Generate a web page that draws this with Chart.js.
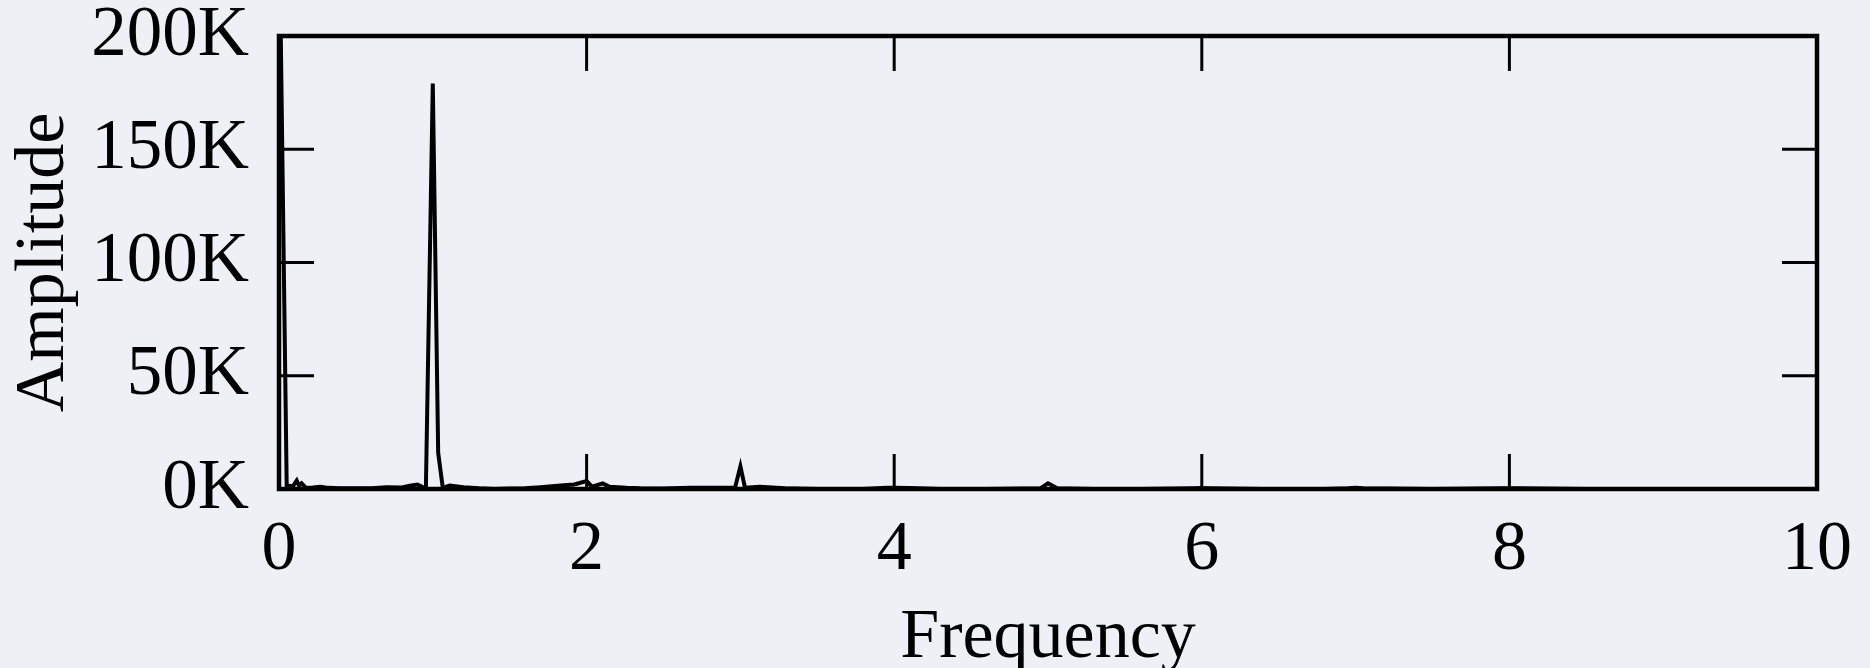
<!DOCTYPE html>
<html>
  <head>
    <style>
      html, body { margin: 0; padding: 0; background: #eff0f5; }
      #wrap { width: 1870px; height: 668px; }
    </style>
  </head>
  <body>
    <div id="wrap">
      <canvas id="myChart" width="1870" height="668"></canvas>
    </div>

    <script src="https://cdn.jsdelivr.net/npm/chart.js"></script>

    <script>
      "use strict";

      // spectrum (frequency, amplitude)
      const freq = [0, 0.05, 0.09, 0.115, 0.13, 0.147, 0.175, 0.22, 0.27, 0.32, 0.4, 0.5, 0.6, 0.7, 0.8, 0.85, 0.9, 0.93, 0.955,
                    1.0, 1.035, 1.065, 1.11, 1.2, 1.3, 1.4, 1.5, 1.6, 1.7, 1.83, 1.92, 2.0, 2.035, 2.105, 2.15, 2.26, 2.35,
                    2.5, 2.67, 2.83, 2.965, 3.0, 3.03, 3.125, 3.29, 3.5, 3.8, 3.95, 4.0, 4.1, 4.3, 4.6, 4.95, 5.0, 5.06,
                    5.3, 5.6, 5.95, 6.0, 6.05, 6.4, 6.8, 6.95, 7.0, 7.05, 7.5, 7.95, 8.05, 8.5, 9.0, 9.5, 10];
      const amp  = [260000, 1500, 1200, 3700, 1500, 2500, 500, 700, 1000, 500, 300, 300, 300, 800, 700, 1500, 2000, 1000, 300,
                    179000, 16000, 500, 1500, 800, 300, 0, 200, 300, 800, 1500, 2000, 3500, 1000, 2500, 1000, 500, 300,
                    200, 500, 500, 500, 10000, 500, 1000, 300, 0, 0, 500, 600, 400, 0, 0, 300, 2500, 300,
                    0, 0, 300, 400, 300, 0, 0, 300, 500, 300, 0, 300, 300, 0, 0, 0, 0];

      const yTicks = [0, 50000, 100000, 150000, 200000];

      const serif = "'Liberation Serif', 'Times New Roman', serif";

      // box round the plot plus inward tick marks on all four sides
      const frame = {
          id: 'frame',
          afterDatasetsDraw(chart) {
              const ctx = chart.ctx;
              const a = chart.chartArea;
              const x = chart.scales.x;
              const y = chart.scales.y;
              const len = 35;
              function seg(x1, y1, x2, y2) {
                  ctx.beginPath(); ctx.moveTo(x1, y1); ctx.lineTo(x2, y2); ctx.stroke();
              }
              ctx.save();
              ctx.strokeStyle = '#000';
              ctx.lineWidth = 3;
              x.ticks.forEach(t => {
                  if (t.value <= x.min || t.value >= x.max) return;
                  const px = x.getPixelForValue(t.value);
                  seg(px, a.top, px, a.top + len);
                  seg(px, a.bottom, px, a.bottom - len);
              });
              y.ticks.forEach(t => {
                  if (t.value <= y.min || t.value >= y.max) return;
                  const py = y.getPixelForValue(t.value);
                  seg(a.left, py, a.left + len, py);
                  seg(a.right, py, a.right - len, py);
              });
              ctx.lineWidth = 4.5;
              ctx.strokeRect(a.left, a.top, a.right - a.left, a.bottom - a.top);
              ctx.restore();
          }
      };

      const points = freq.map((f, i) => ({ x: f, y: amp[i] }));

      const ctx = document.getElementById('myChart').getContext('2d');
      const chart = new Chart(ctx, {
          type: 'scatter',
          data: {
              datasets: [{
                  data: points,
                  showLine: true,
                  borderColor: '#000',
                  backgroundColor: '#000',
                  borderWidth: 4,
                  pointRadius: 0,
                  tension: 0
              }]
          },
          options: {
              responsive: false,
              animation: false,
              layout: { padding: { left: 0, top: 36, right: 53, bottom: 0 } },
              plugins: {
                  legend: { display: false },
                  tooltip: { enabled: false }
              },
              scales: {
                  x: {
                      type: 'linear',
                      min: 0,
                      max: 10,
                      grid: { display: false },
                      border: { display: false },
                      ticks: {
                          stepSize: 2,
                          padding: 19,
                          color: '#000',
                          font: { family: serif, size: 70, lineHeight: 1 }
                      },
                      title: {
                          display: true,
                          text: 'Frequency',
                          color: '#000',
                          font: { family: serif, size: 70, lineHeight: 0.8 },
                          padding: { top: 0, bottom: 1 }
                      },
                      afterFit(scale) {
                          scale.height = 179;
                          scale.paddingLeft = 0;
                          scale.paddingRight = 0;
                      }
                  },
                  y: {
                      min: 0,
                      max: 200000,
                      grid: { display: false },
                      border: { display: false },
                      afterBuildTicks(scale) { scale.ticks = yTicks.map(v => ({ value: v })); },
                      ticks: {
                          padding: 22,
                          color: '#000',
                          font: { family: serif, size: 71, lineHeight: 1 },
                          callback: v => (v / 1000) + 'K'
                      },
                      title: {
                          display: true,
                          text: 'Amplitude',
                          color: '#000',
                          font: { family: serif, size: 70, lineHeight: 1 },
                          padding: { top: 10, bottom: 0 }
                      },
                      afterFit(scale) {
                          scale.width = 279;
                          scale.paddingTop = 0;
                          scale.paddingBottom = 0;
                      }
                  }
              }
          },
          plugins: [frame]
      });
    </script>
  </body>
</html>
